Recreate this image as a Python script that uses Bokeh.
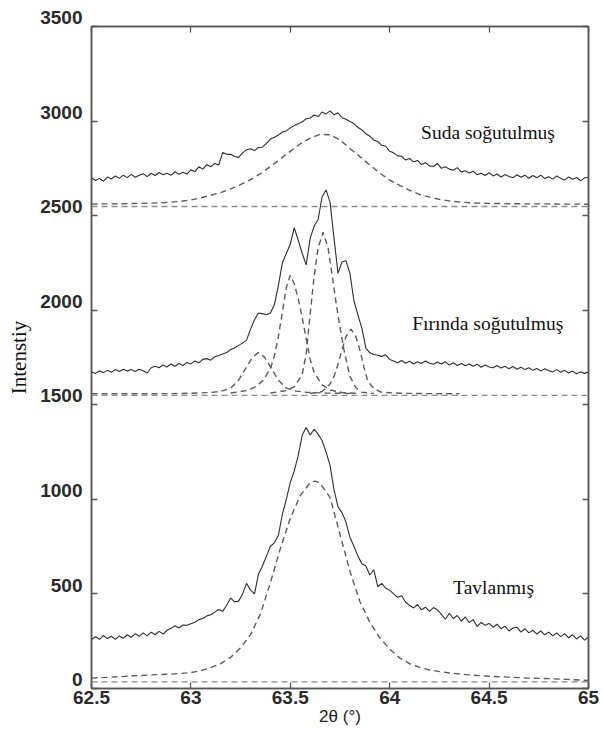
import numpy as np
from bokeh.plotting import figure
from bokeh.models import (Range1d, LinearAxis, Label, FixedTicker, NumeralTickFormatter,
                          Span, CustomJSTickFormatter)
from bokeh.embed import file_html
from bokeh.resources import INLINE

# Scan grid (2θ, degrees) shared by the three measured patterns
two_theta = np.round(np.arange(62.5, 65.0001, 0.02), 2)

# Measured intensities (counts, vertically offset per sample)
suda = [
    2700, 2686, 2697, 2682, 2704, 2694, 2710, 2697, 2714, 2701,
    2718, 2703, 2714, 2722, 2706, 2724, 2712, 2728, 2716, 2724,
    2714, 2732, 2719, 2730, 2720, 2742, 2733, 2758, 2746, 2770,
    2758, 2776, 2768, 2834, 2824, 2824, 2813, 2808, 2832, 2848,
    2854, 2844, 2860, 2862, 2882, 2905, 2914, 2926, 2942, 2948,
    2964, 2976, 2986, 2996, 3012, 3016, 3032, 3024, 3048, 3038,
    3054, 3033, 3044, 3018, 3010, 2998, 2987, 2966, 2954, 2933,
    2920, 2900, 2892, 2872, 2867, 2840, 2832, 2816, 2814, 2794,
    2802, 2784, 2792, 2770, 2780, 2763, 2760, 2776, 2750, 2758,
    2746, 2740, 2754, 2730, 2737, 2726, 2735, 2716, 2724, 2712,
    2727, 2710, 2720, 2704, 2717, 2707, 2700, 2716, 2703, 2714,
    2698, 2712, 2700, 2714, 2696, 2706, 2693, 2710, 2697, 2688,
    2704, 2692, 2702, 2684, 2700, 2702,
]
firinda = [
    1675, 1666, 1680, 1670, 1682, 1672, 1686, 1676, 1688, 1678,
    1686, 1676, 1688, 1680, 1668, 1696, 1704, 1696, 1710, 1700,
    1716, 1704, 1718, 1708, 1724, 1716, 1732, 1722, 1740, 1744,
    1736, 1754, 1760, 1768, 1776, 1792, 1800, 1814, 1826, 1842,
    1900, 1950, 1985, 1982, 1976, 1985, 2030, 2130, 2250, 2300,
    2350, 2436, 2370, 2300, 2240, 2380, 2445, 2480, 2600, 2636,
    2570, 2380, 2195, 2255, 2262, 2195, 2050, 1975, 1905, 1800,
    1775, 1766, 1762, 1756, 1764, 1740, 1732, 1722, 1734, 1720,
    1730, 1716, 1728, 1718, 1732, 1720, 1714, 1726, 1716, 1728,
    1710, 1722, 1708, 1718, 1706, 1716, 1704, 1714, 1698, 1710,
    1700, 1696, 1708, 1694, 1704, 1690, 1702, 1688, 1698, 1686,
    1696, 1682, 1692, 1678, 1690, 1680, 1674, 1686, 1672, 1682,
    1668, 1678, 1664, 1674, 1666, 1674,
]
tavlanmis = [
    258, 274, 260, 280, 264, 276, 260, 278, 266, 284,
    270, 290, 276, 294, 278, 298, 284, 302, 288, 308,
    318, 332, 320, 336, 334, 342, 350, 364, 370, 384,
    390, 404, 418, 408, 440, 478, 458, 462, 500, 556,
    520, 500, 606, 648, 700, 752, 770, 810, 920, 1000,
    1090, 1150, 1232, 1340, 1380, 1340, 1370, 1345, 1310, 1250,
    1180, 1050, 960, 930, 880, 800, 752, 700, 660, 648,
    600, 628, 538, 556, 530, 520, 500, 482, 490, 456,
    440, 426, 444, 416, 430, 408, 428, 416, 392, 366,
    398, 370, 386, 356, 378, 348, 364, 328, 350, 334,
    344, 324, 340, 316, 330, 304, 320, 324, 298, 316,
    294, 308, 288, 304, 284, 298, 278, 294, 274, 290,
    268, 284, 262, 278, 256, 272,
]

# Fitted profiles
suda_fit_x = [62.50, 62.55, 62.60, 62.65, 62.70, 62.75, 62.80, 62.85, 62.90, 62.95,
              63.00, 63.05, 63.10, 63.15, 63.20, 63.25, 63.30, 63.35, 63.40, 63.45,
              63.50, 63.55, 63.60, 63.65, 63.70, 63.75, 63.80, 63.85, 63.90, 63.95,
              64.00, 64.05, 64.10, 64.15, 64.20, 64.25, 64.30, 64.35, 64.40, 64.45,
              64.50, 64.55, 64.60, 64.65, 64.70, 64.75, 64.80, 64.85, 64.90, 64.95, 65.00]
suda_fit_y = [2561, 2562, 2562, 2563, 2564, 2565, 2566, 2568, 2571, 2576,
              2583, 2594, 2608, 2622, 2642, 2664, 2690, 2722, 2760, 2800,
              2840, 2880, 2910, 2930, 2928, 2900, 2855, 2812, 2768, 2725,
              2688, 2660, 2634, 2612, 2598, 2586, 2578, 2572, 2568, 2566,
              2565, 2564, 2563, 2563, 2562, 2562, 2562, 2561, 2561, 2561, 2560]

fir_a_x = [62.50, 62.70, 62.90, 63.00, 63.10, 63.15, 63.20, 63.24, 63.28, 63.31, 63.34,
           63.37, 63.40, 63.44, 63.48, 63.53, 63.58, 63.68, 63.80]
fir_a_y = [1558, 1558, 1559, 1561, 1565, 1571, 1588, 1630, 1700, 1752, 1776,
           1752, 1700, 1630, 1588, 1572, 1566, 1562, 1560]
fir_b_x = [63.20, 63.28, 63.32, 63.36, 63.40, 63.42, 63.44, 63.46, 63.48, 63.50,
           63.52, 63.54, 63.56, 63.58, 63.60, 63.62, 63.66, 63.70, 63.76, 63.84]
fir_b_y = [1562, 1575, 1592, 1625, 1690, 1760, 1860, 1990, 2120, 2185,
           2140, 2060, 1960, 1850, 1740, 1670, 1605, 1578, 1565, 1560]
fir_c_x = [63.40, 63.48, 63.52, 63.56, 63.58, 63.60, 63.62, 63.64, 63.665, 63.69,
           63.71, 63.73, 63.75, 63.77, 63.80, 63.83, 63.86, 63.92]
fir_c_y = [1562, 1575, 1595, 1660, 1770, 1980, 2180, 2330, 2412, 2330,
           2190, 2040, 1910, 1790, 1650, 1590, 1566, 1560]
fir_d_x = [63.60, 63.66, 63.70, 63.72, 63.74, 63.76, 63.78, 63.805, 63.83, 63.85,
           63.87, 63.89, 63.92, 63.96, 64.05, 64.20, 64.35]
fir_d_y = [1560, 1570, 1610, 1650, 1715, 1790, 1860, 1900, 1860, 1790,
           1700, 1625, 1585, 1566, 1561, 1559, 1558]

tav_fit_x = [62.50, 62.60, 62.70, 62.80, 62.90, 63.00, 63.05, 63.10, 63.15, 63.20,
             63.25, 63.30, 63.35, 63.40, 63.45, 63.50, 63.55, 63.60, 63.625, 63.65,
             63.70, 63.75, 63.80, 63.85, 63.90, 63.95, 64.00, 64.05, 64.10, 64.15,
             64.20, 64.30, 64.40, 64.50, 64.60, 64.70, 64.80, 64.90, 65.00]
tav_fit_y = [55, 60, 66, 72, 76, 84, 94, 110, 132, 165,
             215, 285, 395, 560, 740, 900, 1020, 1088, 1096, 1085,
             1010, 815, 620, 460, 350, 268, 208, 162, 132, 112,
             98, 82, 72, 65, 60, 55, 52, 48, 42]

# Background levels of each pattern
baselines = [2548, 1550, 35]

# Axis ticks
x_ticks = [62.5, 63.0, 63.5, 64.0, 64.5, 65.0]
y_ticks = [0, 500, 1000, 1500, 2000, 2500, 3000, 3500]

FRAME = "#555555"
SOLID = "#2e2e2e"
FIT = "#5c5c5c"
BASE = "#8c8c8c"
TICKTXT = "#2a2a2a"

p = figure(width=603, height=733, output_backend="svg", toolbar_location=None,
           x_range=Range1d(62.5, 65.0), y_range=Range1d(0, 3500),
           min_border_left=91, min_border_right=15, min_border_top=26, min_border_bottom=45)
p.grid.visible = False
p.outline_line_color = FRAME
p.outline_line_width = 1.5
p.background_fill_color = "white"
p.border_fill_color = "white"

# Baselines
for b in baselines:
    p.add_layout(Span(location=b, dimension="width", line_color=BASE,
                      line_width=1.4, line_dash="6 4"))

# Fitted profiles (dashed)
for fx, fy in [(suda_fit_x, suda_fit_y), (fir_a_x, fir_a_y), (fir_b_x, fir_b_y),
               (fir_c_x, fir_c_y), (fir_d_x, fir_d_y), (tav_fit_x, tav_fit_y)]:
    p.line(fx, fy, line_color=FIT, line_width=1.4, line_dash="6 4")

# Measured patterns
for ys in (suda, firinda, tavlanmis):
    p.line(two_theta, ys, line_color=SOLID, line_width=1.1)

# Sample annotations
for txt, lx, ly in [("Suda soğutulmuş", 64.158, 2938),
                    ("Fırında soğutulmuş", 64.113, 1928),
                    ("Tavlanmış", 64.319, 536)]:
    p.add_layout(Label(x=lx, y=ly, text=txt, text_font="Liberation Serif",
                       text_font_size="19.5px", text_color="#111111",
                       text_baseline="alphabetic", text_align="left"))

# Axes: ticks point inward on all four sides
def style_axis(ax):
    ax.axis_line_color = FRAME
    ax.axis_line_width = 1.5
    ax.major_tick_in = 6
    ax.major_tick_out = 0
    ax.major_tick_line_color = FRAME
    ax.major_tick_line_width = 1.3
    ax.minor_tick_line_color = None

blank = CustomJSTickFormatter(code="return '';")

xa = p.xaxis[0]
ya = p.yaxis[0]
xa.ticker = FixedTicker(ticks=x_ticks)
ya.ticker = FixedTicker(ticks=y_ticks)
xa.formatter = NumeralTickFormatter(format="0.[0]")
style_axis(xa)
style_axis(ya)
for ax in (xa, ya):
    ax.major_label_text_font = "Liberation Sans"
    ax.major_label_text_font_style = "bold"
    ax.major_label_text_font_size = "19px"
    ax.major_label_text_color = TICKTXT
xa.major_label_standoff = 2

# The intensity numbers sit a little above their ticks: an empty second line
# under each number lifts it by half a line.
ya.formatter = CustomJSTickFormatter(code="return tick.toFixed(0) + '\\n ';")
ya.major_label_text_line_height = 0.85
ya.major_label_standoff = 9

xa.axis_label = "2θ (°)"
xa.axis_label_text_font = "Liberation Sans"
xa.axis_label_text_font_style = "normal"
xa.axis_label_text_font_size = "17px"
xa.axis_label_standoff = 0
xa.axis_label_text_color = "#222222"

ya.axis_label = "Intenstiy"
ya.axis_label_text_font = "Liberation Serif"
ya.axis_label_text_font_style = "normal"
ya.axis_label_text_font_size = "21px"
ya.axis_label_standoff = 6
ya.axis_label_text_color = "#111111"

right = LinearAxis(ticker=FixedTicker(ticks=y_ticks), formatter=blank, major_label_standoff=0)
top = LinearAxis(ticker=FixedTicker(ticks=x_ticks), formatter=blank, major_label_standoff=0)
style_axis(right)
style_axis(top)
p.add_layout(right, "right")
p.add_layout(top, "above")

open("out.html", "w").write(file_html(p, INLINE))
